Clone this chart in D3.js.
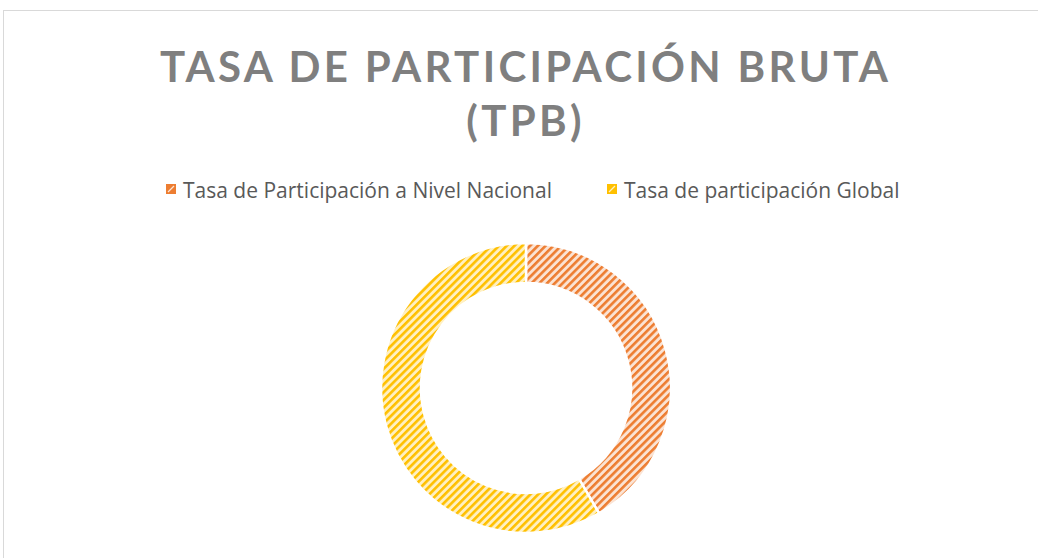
<!DOCTYPE html>
<html>
<head>
<meta charset="utf-8">
<script src="https://cdn.jsdelivr.net/npm/d3@7"></script>
<style>
  html, body { margin: 0; padding: 0; background: #fff; }
  svg { display: block; }
</style>
</head>
<body>
<svg id="chart" width="1038" height="558"></svg>
<script>
// data
const categories = ["Tasa de Participación a Nivel Nacional", "Tasa de participación Global"];
const values = [41.6, 58.4];
const colors = ["#ED7D31", "#FFC000"];
const lightColors = ["#FBE3D3", "#FFF0C2"];
const titleLines = ["TASA DE PARTICIPACIÓN BRUTA", "(TPB)"];

const svg = d3.select("#chart");
const width = 1038, height = 558;

// chart frame
svg.append("rect")
  .attr("x", 3.5).attr("y", 10.5)
  .attr("width", 1100).attr("height", 600)
  .attr("fill", "#fff")
  .attr("stroke", "#d9d9d9")
  .attr("stroke-width", 1);

// hatch patterns
const defs = svg.append("defs");
colors.forEach((c, i) => {
  const p = defs.append("pattern")
    .attr("id", "hatch" + i)
    .attr("patternUnits", "userSpaceOnUse")
    .attr("width", 5.5).attr("height", 5.5)
    .attr("patternTransform", "rotate(45)");
  p.append("rect").attr("width", 5.5).attr("height", 5.5).attr("fill", lightColors[i]);
  p.append("rect").attr("width", 2.6).attr("height", 5.5).attr("fill", c);
});

// title, letter-spaced to span roughly 160..888
const title = svg.append("g")
  .attr("font-family", "Lato, sans-serif")
  .attr("font-weight", "bold")
  .attr("fill", "#7f7f7f")
  .attr("text-anchor", "middle");

const titleText = title.selectAll("text")
  .data(titleLines)
  .enter().append("text")
  .attr("y", (d, i) => 82 + i * 54)
  .attr("font-size", 42)
  .text(d => d);

const line0 = titleText.nodes()[0];
const natural = line0.getComputedTextLength();
const spacing = (728 - natural) / (titleLines[0].length - 1);
titleText
  .attr("letter-spacing", spacing + "px")
  .attr("x", 524 + spacing / 2);

// legend
const legendX = [166, 607];
const legend = svg.append("g")
  .attr("font-family", "'Open Sans', sans-serif")
  .attr("font-size", 21)
  .attr("fill", "#595959");

const item = legend.selectAll("g")
  .data(categories)
  .enter().append("g")
  .attr("transform", (d, i) => `translate(${legendX[i]},0)`);

item.append("rect")
  .attr("x", 0).attr("y", 184)
  .attr("width", 10).attr("height", 10)
  .attr("fill", (d, i) => colors[i]);

item.append("path")
  .attr("d", "M2,192 L8,186")
  .attr("stroke", (d, i) => lightColors[i])
  .attr("stroke-width", 1.2);

item.append("text")
  .attr("x", 17)
  .attr("y", 198)
  .text(d => d);

// donut
const cx = 526, cy = 388;
const pie = d3.pie().sort(null).value(d => d);
const arc = d3.arc().innerRadius(105).outerRadius(145);

svg.append("g")
  .attr("transform", `translate(${cx},${cy})`)
  .selectAll("path")
  .data(pie(values))
  .enter().append("path")
  .attr("d", arc)
  .attr("fill", (d, i) => `url(#hatch${i})`)
  .attr("stroke", "#fff")
  .attr("stroke-width", 2.5);
</script>
</body>
</html>
